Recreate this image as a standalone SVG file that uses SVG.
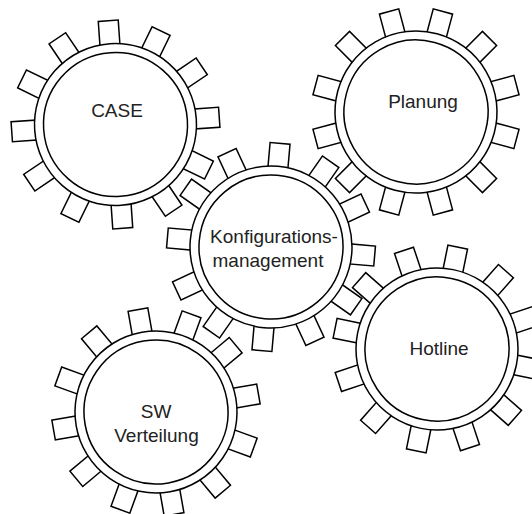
<svg xmlns="http://www.w3.org/2000/svg" xmlns:xlink="http://www.w3.org/1999/xlink" width="532" height="514" viewBox="0 0 532 514">
<style>
.t{fill:#fff;stroke:#000;stroke-width:1.5}
.o{fill:#fff;stroke:#000;stroke-width:1.5}
.i{fill:none;stroke:#000;stroke-width:1.5}
text{font-family:"Liberation Sans",Arial,sans-serif;font-size:19px;fill:#222;text-anchor:middle}
</style>
<defs>
<rect id="tooth" class="t" x="-10" y="-104" width="20" height="28"/>
<g id="gear">
<use xlink:href="#tooth"/>
<use xlink:href="#tooth" transform="rotate(30)"/>
<use xlink:href="#tooth" transform="rotate(60)"/>
<use xlink:href="#tooth" transform="rotate(90)"/>
<use xlink:href="#tooth" transform="rotate(120)"/>
<use xlink:href="#tooth" transform="rotate(150)"/>
<use xlink:href="#tooth" transform="rotate(180)"/>
<use xlink:href="#tooth" transform="rotate(210)"/>
<use xlink:href="#tooth" transform="rotate(240)"/>
<use xlink:href="#tooth" transform="rotate(270)"/>
<use xlink:href="#tooth" transform="rotate(300)"/>
<use xlink:href="#tooth" transform="rotate(330)"/>
<circle class="o" r="81"/>
<circle class="i" r="72"/>
</g>
</defs>
<rect width="532" height="514" fill="#fff"/>
<g id="connectors"/>
<g id="case" transform="translate(115.5,124.5)">
<use xlink:href="#gear" transform="rotate(-4)"/>
<text x="1.5" y="-7.5">CASE</text>
</g>
<g id="planung" transform="translate(416,112)">
<use xlink:href="#gear" transform="rotate(15)"/>
<text x="7" y="-4">Planung</text>
</g>
<g id="konfigurationsmanagement" transform="translate(271,247)">
<use xlink:href="#gear" transform="rotate(5)"/>
<text x="3" y="-4">Konfigurations-</text>
<text x="-3" y="20">management</text>
</g>
<g id="hotline" transform="translate(437,349)">
<use xlink:href="#gear" transform="rotate(11.5)"/>
<text x="2" y="6">Hotline</text>
</g>
<g id="sw-verteilung" transform="translate(156,412)">
<use xlink:href="#gear" transform="rotate(-10)"/>
<text x="0" y="6">SW</text>
<text x="0.5" y="30">Verteilung</text>
</g>
</svg>
